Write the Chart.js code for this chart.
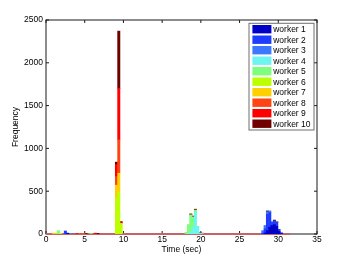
<!DOCTYPE html>
<html><head><meta charset="utf-8">
<script src="https://cdn.jsdelivr.net/npm/chart.js@4/dist/chart.umd.min.js"></script>
<style>html,body{margin:0;padding:0;background:#fff}</style>
</head><body>
<canvas id="c" width="351" height="263"></canvas>
<script>
// ---- data (time bin centre in sec, count) ----
const workerNames = ['worker 1','worker 2','worker 3','worker 4','worker 5','worker 6','worker 7','worker 8','worker 9','worker 10'];
const worker1 = [[2.8,10],[28.3,10],[28.6,40],[28.9,80],[29.2,100],[29.5,110],[29.8,90],[30.1,30],[30.4,5]];
const worker2 = [[2.5,35],[28.0,10],[28.3,50],[28.6,190],[28.9,170],[29.2,35],[29.5,45],[29.8,45],[30.1,25],[30.4,10]];
const worker3 = [[3.4,8],[28.0,30],[28.3,40],[28.6,30],[28.9,20],[29.2,10]];
const worker4 = [[18.4,10],[18.7,25],[19.0,80],[19.3,250],[19.6,85],[19.9,10],[20.2,5]];
const worker5 = [[1.6,40],[5.8,5],[18.1,20],[18.4,100],[18.7,200],[19.0,120],[19.3,30],[19.6,5]];
const worker6 = [[1.9,10],[9.1,420],[9.4,490],[9.7,110]];
const worker7 = [[1.0,10],[1.3,10],[9.1,150],[9.4,220],[9.7,15]];
const worker8 = [[4.6,8],[9.1,100],[9.4,390]];
const worker9 = [[4.0,5],[6.4,10],[9.1,140],[9.4,600],[9.7,10],[20.2,5]];
const worker10 = [[5.2,5],[6.7,8],[9.1,30],[9.4,670],[9.7,10],[18.7,10],[19.0,10],[19.3,10],[19.9,5],[28.6,10],[29.5,8],[29.8,8]];
const emptyBinsRange = [0, 31.5];
const xTickValues = [0,5,10,15,20,25,30,35];
const yTickValues = [0,500,1000,1500,2000,2500];

// ---- styles ----
const workerColors = ['#0000c8','#1e3cff','#3c78ff','#6ef5f0','#7dff7d','#bbff00','#ffd000','#ff4414','#ff0000','#700000'];
const FONT = {family:'"Liberation Sans", Arial, Helvetica, sans-serif', size:8.5};
Chart.defaults.color = '#000';
Chart.defaults.font.family = FONT.family;
Chart.defaults.font.size = FONT.size;

const allWorkers = [worker1,worker2,worker3,worker4,worker5,worker6,worker7,worker8,worker9,worker10];
const datasets = allWorkers.map((w,i)=>({
  type:'bar',
  label: workerNames[i],
  data: w.map(p=>({x:p[0], y:p[1]})),
  backgroundColor: workerColors[i],
  borderWidth: 0,
  barPercentage: 1,
  categoryPercentage: 1,
  order: 0
}));
datasets.push({
  type:'line',
  label:'empty bins',
  data: emptyBinsRange.map(v=>({x:v, y:0})),
  borderColor:'#c46464',
  borderWidth:2,
  pointRadius:0,
  clip:false,
  order:1
});

const framePlugin = {
  id:'frame',
  beforeDatasetsDraw(chart){
    const {ctx, chartArea:{left,right,top,bottom}, scales:{x,y}} = chart;
    ctx.save();
    ctx.strokeStyle = '#1a1a1a';
    ctx.lineWidth = 1;
    ctx.strokeRect(left, top, right-left, bottom-top);
    ctx.beginPath();
    xTickValues.forEach(v=>{
      const px = x.getPixelForValue(v);
      ctx.moveTo(px,bottom); ctx.lineTo(px,bottom-3);
      ctx.moveTo(px,top); ctx.lineTo(px,top+3);
    });
    yTickValues.forEach(v=>{
      const py = y.getPixelForValue(v);
      ctx.moveTo(left,py); ctx.lineTo(left+3,py);
      ctx.moveTo(right,py); ctx.lineTo(right-3,py);
    });
    ctx.stroke();
    ctx.restore();
  },
  afterDatasetsDraw(chart){
    const {ctx, chartArea:{right,top}} = chart;
    const bx = right - 68, by = top + 3.3, bw = 65, bh = 106.7;
    ctx.save();
    ctx.fillStyle = '#fff';
    ctx.fillRect(bx, by, bw, bh);
    ctx.strokeStyle = '#6e6e6e';
    ctx.lineWidth = 1;
    ctx.strokeRect(bx, by, bw, bh);
    ctx.font = FONT.size + 'px ' + FONT.family;
    ctx.textBaseline = 'middle';
    ctx.textAlign = 'left';
    chart.data.datasets.forEach((ds,i)=>{
      if (ds.type !== 'bar') return;
      const cy = by + 5.9 + i*10.5;
      ctx.fillStyle = ds.backgroundColor;
      ctx.fillRect(bx+3.4, cy-4.2, 19, 8.4);
      ctx.fillStyle = '#000';
      ctx.fillText(ds.label, bx+24.2, cy+0.5);
    });
    ctx.restore();
  }
};

new Chart(document.getElementById('c'), {
  type:'bar',
  data:{datasets},
  options:{
    responsive:false,
    animation:false,
    devicePixelRatio:1,
    layout:{padding:{left:0, right:34, top:20, bottom:0}},
    plugins:{legend:{display:false}, tooltip:{enabled:false}},
    scales:{
      x:{
        type:'linear', stacked:true, min:0, max:35, offset:false,
        afterBuildTicks(s){ s.ticks = xTickValues.map(v=>({value:v})); },
        afterFit(s){ s.height = 29; },
        grid:{display:false, drawTicks:false, offset:false},
        border:{display:false},
        ticks:{padding:1, maxRotation:0, autoSkip:false, callback:v=>String(v)},
        title:{display:true, text:'Time (sec)', padding:{top:0,bottom:8.5}}
      },
      y:{
        type:'linear', stacked:true, min:0, max:2500,
        afterBuildTicks(s){ s.ticks = yTickValues.map(v=>({value:v})); },
        afterFit(s){ s.width = 46; },
        grid:{display:false, drawTicks:false},
        border:{display:false},
        ticks:{padding:3, autoSkip:false, callback:v=>String(v)},
        title:{display:true, text:'Frequency', padding:{top:11,bottom:0}}
      }
    }
  },
  plugins:[framePlugin]
});
</script>
</body></html>
